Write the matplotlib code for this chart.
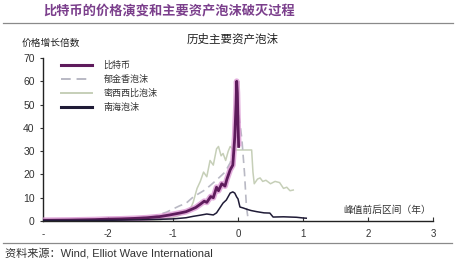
import matplotlib
matplotlib.use("Agg")
import matplotlib.pyplot as plt
from matplotlib.lines import Line2D

plt.rcParams["font.family"] = ["Liberation Sans", "Noto Sans CJK SC", "DejaVu Sans"]

# years relative to the peak, price multiple
btc_x = [-3.0, -2.6, -2.2, -2.0, -1.8, -1.6, -1.4, -1.2, -1.05, -0.9, -0.8, -0.74, -0.65,
         -0.58, -0.52, -0.48, -0.42, -0.38, -0.33, -0.3, -0.25, -0.2, -0.17, -0.12, -0.08,
         -0.05, -0.03, -0.02, -0.01, 0.0, 0.01]
btc_y = [0.3, 0.4, 0.6, 0.8, 0.9, 1.1, 1.4, 1.9, 2.6, 3.4, 4.0, 4.7, 5.8,
         7.2, 8.5, 8.0, 10.5, 10.0, 14.5, 13.0, 16.0, 15.0, 18.0, 22.0, 24.0,
         36.0, 50.0, 60.0, 55.0, 42.0, 32.0]

tulip_x = [-3.0, -2.5, -2.0, -1.6, -1.3, -1.1, -0.9, -0.8, -0.69, -0.5, -0.33, -0.2,
           -0.12, -0.05, 0.0, 0.03, 0.06, 0.1, 0.13, 0.15]
tulip_y = [0.2, 0.3, 0.6, 1.0, 2.0, 3.8, 6.5, 7.6, 10.3, 13.5, 17.6, 21.0,
           25.0, 32.0, 48.0, 42.0, 35.0, 20.6, 6.0, 2.0]

miss_x = [-1.5, -1.2, -1.0, -0.9, -0.8, -0.72, -0.69, -0.63, -0.58, -0.53, -0.48, -0.43,
          -0.38, -0.33, -0.3, -0.26, -0.23, -0.19, -0.15, -0.12, -0.07, 0.0, 0.1, 0.21,
          0.23, 0.25, 0.3, 0.34, 0.38, 0.43, 0.5, 0.57, 0.64, 0.7, 0.75, 0.8, 0.85]
miss_y = [0.3, 0.5, 1.5, 2.5, 4.0, 6.0, 8.0, 14.0, 17.0, 21.0, 19.0, 26.0,
          24.0, 31.0, 32.0, 28.0, 29.0, 26.0, 30.0, 32.0, 30.5, 30.5, 30.5, 30.5,
          21.0, 16.0, 18.0, 18.5, 17.0, 17.5, 16.0, 17.0, 16.5, 14.0, 14.5, 13.0, 13.3]

south_x = [-3.0, -2.0, -1.5, -1.0, -0.8, -0.69, -0.58, -0.48, -0.38, -0.33, -0.28, -0.23,
           -0.18, -0.12, -0.08, -0.05, -0.02, 0.0, 0.03, 0.08, 0.14, 0.2, 0.29, 0.4,
           0.49, 0.54, 0.7, 0.9, 1.0, 1.05]
south_y = [0.2, 0.3, 0.5, 0.9, 1.4, 2.0, 2.5, 3.0, 2.6, 3.5, 5.6, 7.7,
           9.0, 12.0, 12.5, 12.0, 10.3, 9.5, 6.0, 5.6, 5.0, 4.5, 4.0, 3.5,
           3.4, 1.7, 1.8, 1.6, 1.3, 1.2]

x_ticks = [-3, -2, -1, 0, 1, 2, 3]
x_tick_labels = ["-", "-2", "-1", "0", "1", "2", "3"]
y_ticks = [0, 10, 20, 30, 40, 50, 60, 70]

series_names = ["比特币", "郁金香泡沫", "密西西比泡沫", "南海泡沫"]

BTC = "#5e1b5c"
BTC_BAND = "#dc9ad4"
TULIP = "#b9b9c4"
MISS = "#c6cfb8"
SOUTH = "#1f1b36"

W, H = 459, 267
fig = plt.figure(figsize=(W / 100, H / 100), dpi=100)
fig.patch.set_facecolor("white")

ax = fig.add_axes([43 / W, 1 - 221 / H, (433 - 43) / W, (221 - 58) / H])
ax.plot(miss_x, miss_y, color=MISS, lw=1.1, zorder=2)
ax.plot(tulip_x, tulip_y, color=TULIP, lw=1.2, ls=(0, (5, 3)), zorder=3)
ax.plot(btc_x, btc_y, color=BTC_BAND, lw=4.2, alpha=0.8, zorder=4, solid_capstyle="butt")
ax.plot(btc_x, btc_y, color=BTC, lw=2.0, zorder=5)
ax.plot(south_x, south_y, color=SOUTH, lw=1.1, zorder=6)

ax.set_xlim(-3, 3)
ax.set_ylim(0, 70)
ax.set_xticks(x_ticks)
ax.set_xticklabels(x_tick_labels)
ax.set_yticks(y_ticks)
for s in ["top", "right"]:
    ax.spines[s].set_visible(False)
for s in ["left", "bottom"]:
    ax.spines[s].set_color("#222222")
    ax.spines[s].set_linewidth(1.0)
ax.tick_params(axis="x", direction="in", length=3, labelsize=7, colors="#333333", pad=6)
ax.tick_params(axis="y", direction="out", length=2, labelsize=7.5, colors="#333333", pad=4)

handles = [
    Line2D([], [], color=BTC, lw=2.2),
    Line2D([], [], color=TULIP, lw=1.4, ls=(0, (5, 3))),
    Line2D([], [], color=MISS, lw=1.4),
    Line2D([], [], color=SOUTH, lw=2.2),
]
leg = ax.legend(handles, series_names, loc="upper left", bbox_to_anchor=(0.035, 1.01),
                frameon=False, fontsize=6.5, handlelength=3.4, handletextpad=1.3,
                labelspacing=0.55, borderpad=0)
for t in leg.get_texts():
    t.set_color("#333333")

ax.text(0.995, 0.07, "峰值前后区间（年）", transform=ax.transAxes, ha="right", va="center",
        fontsize=7, color="#333333")

fig.text(43 / W, 1 - 12 / H, "比特币的价格演变和主要资产泡沫破灭过程", ha="left", va="center",
         fontsize=9.5, color="#7b3f8c", fontweight="bold")
fig.add_artist(Line2D([3 / W, 453 / W], [1 - 23 / H, 1 - 23 / H], color="#8a8a8a", lw=0.9))
fig.text(22 / W, 1 - 43 / H, "价格增长倍数", ha="left", va="center", fontsize=7, color="#222222")
fig.text(233 / W, 1 - 40 / H, "历史主要资产泡沫", ha="center", va="center", fontsize=8.3,
         color="#222222")
fig.add_artist(Line2D([3 / W, 452 / W], [1 - 243 / H, 1 - 243 / H], color="#8a8a8a", lw=0.9))
fig.text(5 / W, 1 - 253 / H, "资料来源：Wind, Elliot Wave International", ha="left", va="center",
         fontsize=8, color="#333333")

fig.savefig("out.png", dpi=100, facecolor="white")
